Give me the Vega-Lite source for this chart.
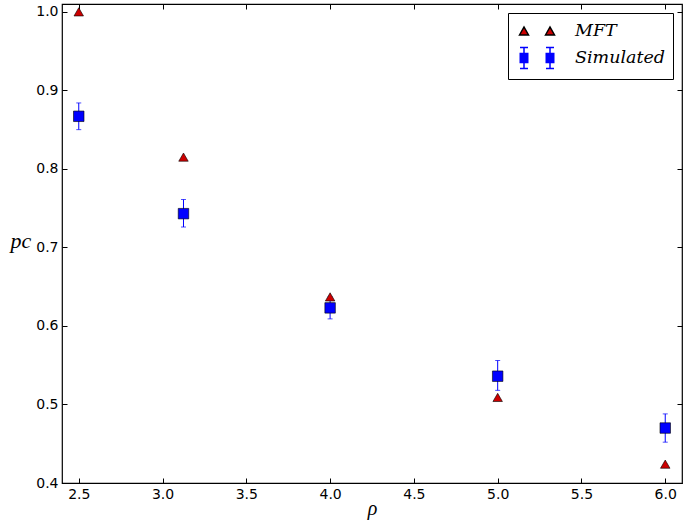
{
  "$schema": "https://vega.github.io/schema/vega-lite/v6.json",
  "autosize": "none",
  "width": 620,
  "height": 479,
  "padding": {"left": 62, "top": 4, "right": 4, "bottom": 40},
  "background": "white",
  "config": {
    "view": {"stroke": "black", "strokeWidth": 1.2},
    "axis": {
      "labelFont": "DejaVu Sans", "labelFontSize": 14, "labelColor": "black",
      "domain": false, "tickColor": "black", "tickSize": -5, "labelPadding": 9,
      "grid": false, "titleColor": "black"
    }
  },
  "data": {"values": [
    {"rho": 2.5, "series": "MFT", "pc": 1.0},
    {"rho": 3.125, "series": "MFT", "pc": 0.815},
    {"rho": 4.0, "series": "MFT", "pc": 0.637},
    {"rho": 5.0, "series": "MFT", "pc": 0.509},
    {"rho": 6.0, "series": "MFT", "pc": 0.424},
    {"rho": 2.5, "series": "Simulated", "pc": 0.867, "lo": 0.850, "hi": 0.884},
    {"rho": 3.125, "series": "Simulated", "pc": 0.743, "lo": 0.726, "hi": 0.761},
    {"rho": 4.0, "series": "Simulated", "pc": 0.623, "lo": 0.609, "hi": 0.637},
    {"rho": 5.0, "series": "Simulated", "pc": 0.536, "lo": 0.518, "hi": 0.556},
    {"rho": 6.0, "series": "Simulated", "pc": 0.470, "lo": 0.452, "hi": 0.488}
  ]},
  "resolve": {"axis": {"x": "independent", "y": "independent"}},
  "layer": [
    {
      "transform": [{"filter": "datum.series === 'Simulated'"}],
      "mark": {"type": "errorbar", "color": "#0000ff", "ticks": true, "thickness": 1},
      "encoding": {
        "x": {"field": "rho", "type": "quantitative",
          "scale": {"domain": [2.4, 6.1], "nice": false, "zero": false},
          "axis": {"values": [2.5, 3.0, 3.5, 4.0, 4.5, 5.0, 5.5, 6.0], "format": ".1f",
            "title": "ρ", "titleFont": "Liberation Serif", "titleFontStyle": "italic",
            "titleFontWeight": "normal", "titleFontSize": 20, "titlePadding": -3}},
        "y": {"field": "lo", "type": "quantitative",
          "scale": {"domain": [0.4, 1.01], "nice": false, "zero": false},
          "axis": {"values": [0.4, 0.5, 0.6, 0.7, 0.8, 0.9, 1.0], "format": ".1f",
            "title": "pc", "titleAngle": 0, "titleFont": "Liberation Serif",
            "titleFontStyle": "italic", "titleFontWeight": "normal", "titleFontSize": 22,
            "titleAlign": "left", "titleBaseline": "middle", "titleX": -52, "titleY": 236}},
        "y2": {"field": "hi"}
      }
    },
    {
      "transform": [{"filter": "datum.series === 'Simulated'"}],
      "mark": {"type": "point", "shape": "square", "filled": true, "fill": "#0000ff",
        "stroke": "black", "strokeWidth": 0.6, "size": 110, "opacity": 1},
      "encoding": {
        "x": {"field": "rho", "type": "quantitative", "axis": null},
        "y": {"field": "pc", "type": "quantitative", "axis": null}
      }
    },
    {
      "transform": [{"filter": "datum.series === 'MFT'"}],
      "mark": {"type": "point", "shape": "triangle-up", "filled": true, "fill": "#cc0000",
        "stroke": "black", "strokeWidth": 0.6, "size": 90, "opacity": 1},
      "encoding": {
        "x": {"field": "rho", "type": "quantitative", "axis": null},
        "y": {"field": "pc", "type": "quantitative", "axis": null}
      }
    },
    {
      "transform": [{"filter": "false"}],
      "mark": {"type": "point", "filled": true, "size": 400, "opacity": 1, "strokeWidth": 0.8},
      "encoding": {
        "x": {"field": "rho", "type": "quantitative",
          "axis": {"orient": "top", "labels": false, "title": null,
            "values": [2.5, 3.0, 3.5, 4.0, 4.5, 5.0, 5.5, 6.0]}},
        "y": {"field": "pc", "type": "quantitative",
          "axis": {"orient": "right", "labels": false, "title": null,
            "values": [0.4, 0.5, 0.6, 0.7, 0.8, 0.9, 1.0]}},
        "shape": {"field": "series", "type": "nominal",
          "scale": {"domain": ["MFT", "Simulated"],
            "range": ["M-1.75,0.4L-1.3,-0.4L-0.85,0.4Z M0.85,0.4L1.3,-0.4L1.75,0.4Z",
              "M-1.675,-0.45h0.75v0.9h-0.75Z M0.925,-0.45h0.75v0.9h-0.75Z M-1.3,-1.05V1.05 M-1.7,-1.05H-0.9 M-1.7,1.05H-0.9 M1.3,-1.05V1.05 M0.9,-1.05H1.7 M0.9,1.05H1.7"]},
          "legend": {"title": null, "orient": "none", "legendX": 446, "legendY": 9,
            "strokeColor": "black", "fillColor": "white", "padding": 7,
            "labelFont": "DejaVu Serif", "labelFontStyle": "italic", "labelFontSize": 17.5,
            "labelColor": "black", "labelOffset": 27, "rowPadding": 4, "symbolSize": 400,
            "symbolOffset": 11}},
        "fill": {"field": "series", "type": "nominal",
          "scale": {"domain": ["MFT", "Simulated"], "range": ["#cc0000", "#0000ff"]}},
        "stroke": {"field": "series", "type": "nominal",
          "scale": {"domain": ["MFT", "Simulated"], "range": ["black", "#0000ff"]}}
      }
    }
  ]
}
